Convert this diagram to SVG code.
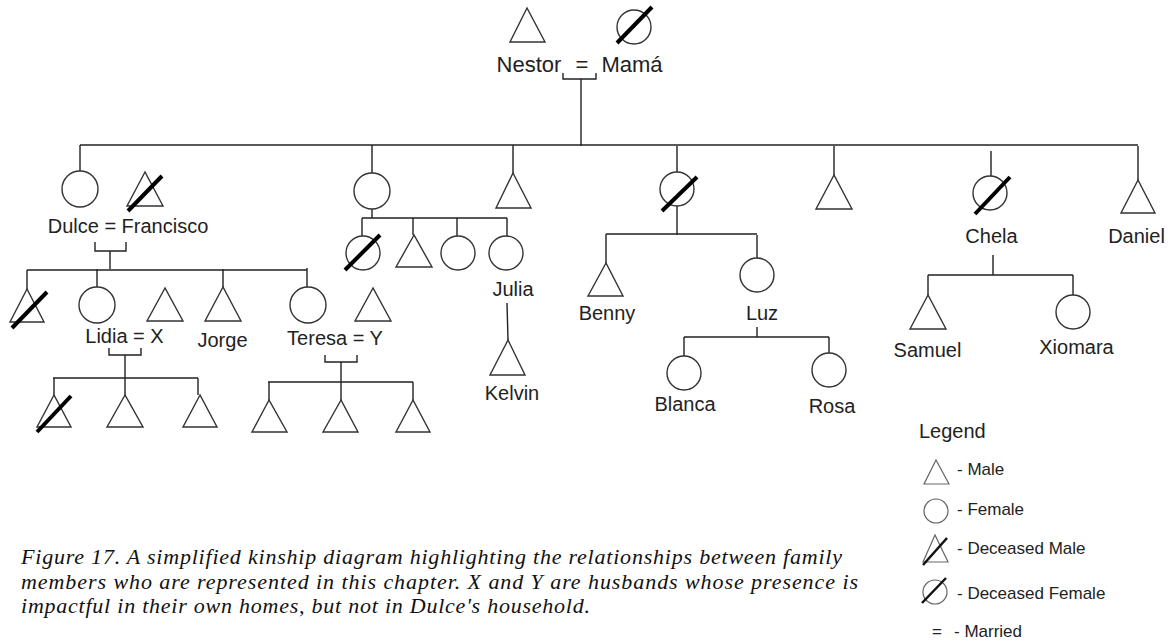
<svg xmlns="http://www.w3.org/2000/svg" width="1173" height="643" viewBox="0 0 1173 643">
<style>
.s{fill:none;stroke:#333;stroke-width:1.4}
.c{fill:none;stroke:#222;stroke-width:1.4}
.d{stroke:#000;stroke-width:4;stroke-linecap:butt}
.t{font-family:"Liberation Sans",Arial,sans-serif;font-size:20px;fill:#222;text-anchor:middle}
.tl{font-family:"Liberation Sans",Arial,sans-serif;font-size:17px;fill:#222}
.ls{fill:none;stroke:#666;stroke-width:1.2}
.ld{stroke:#111;stroke-width:2.5}
.cap{font-family:"Liberation Serif","Times New Roman",serif;font-style:italic;font-size:22px;fill:#111}
</style>
<rect width="1173" height="643" fill="#fff"/>
<g id="connectors" class="c">
<path d="M563,73V79H596V73M581,79V146"/>
<path d="M80,145H1138"/>
<path d="M80,145V171M372,145V173M513,145V173M677,146V172M834,146V175M991,151V176M1138,146V180"/>
<path d="M95,242V251H126V242M110,251V269M27,270H307M27,270V289M97,269V287M223,269V287M307,268V287"/>
<path d="M109,348V355H141V348M125,355V378M53,378H198M54,378V395M125,378V395M198,378V395"/>
<path d="M325,355V362H357V355M341,362V382M268,382H413M269,382V400M341,382V400M413,382V400"/>
<path d="M372,209V218M362,218H507M362,218V236M413,218V235M457,218V236M507,218V236"/>
<path d="M507,303L508,340"/>
<path d="M677,206V235M606,234H757M606,234V263M757,235V258"/>
<path d="M757,327V337M684,337H829M684,337V356M829,337V353"/>
<path d="M993,255V275M928,275H1073M928,275V295M1073,275V295"/>
</g>
<g id="nestor">
<polygon class="s" points="527,8 510,42 545,42"/>
<text class="t" x="529" y="72" style="font-size:22px">Nestor</text>
</g>
<g id="marriage-top"><text class="t" x="582" y="72" style="font-size:22px">=</text></g>
<g id="mama">
<circle class="s" cx="634" cy="27" r="17"/>
<line class="d" x1="617" y1="43" x2="652" y2="7"/>
<text class="t" x="632" y="72" style="font-size:22px">Mamá</text>
</g>
<g id="dulce"><circle class="s" cx="80" cy="189" r="18"/></g>
<g id="francisco">
<polygon class="s" points="145,172 127,206 163,206"/>
<line class="d" x1="128" y1="211" x2="162" y2="176"/>
</g>
<g id="label-dulce-francisco"><text class="t" x="128" y="233">Dulce = Francisco</text></g>
<g id="dulce-child1">
<polygon class="s" points="27,289 10,322 44,322"/>
<line class="d" x1="12" y1="328" x2="47" y2="292"/>
</g>
<g id="lidia"><circle class="s" cx="97" cy="305" r="18"/></g>
<g id="x"><polygon class="s" points="165,288 147,321 183,321"/></g>
<g id="label-lidia-x"><text class="t" x="124.5" y="343">Lidia = X</text></g>
<g id="jorge">
<polygon class="s" points="223,287 205,321 241,321"/>
<text class="t" x="222.5" y="347">Jorge</text>
</g>
<g id="teresa"><circle class="s" cx="308" cy="305" r="18"/></g>
<g id="y"><polygon class="s" points="373,288 355,321 391,321"/></g>
<g id="label-teresa-y"><text class="t" x="335" y="345">Teresa = Y</text></g>
<g id="lidia-child1">
<polygon class="s" points="54,395 37,427 71,427"/>
<line class="d" x1="37" y1="432" x2="71" y2="396"/>
</g>
<g id="lidia-child2"><polygon class="s" points="125,395 107,427 143,427"/></g>
<g id="lidia-child3"><polygon class="s" points="200,395 183,427 217,427"/></g>
<g id="teresa-child1"><polygon class="s" points="269,400 252,432 287,432"/></g>
<g id="teresa-child2"><polygon class="s" points="341,400 323,432 358,432"/></g>
<g id="teresa-child3"><polygon class="s" points="413,400 396,432 430,432"/></g>
<g id="sibling2"><circle class="s" cx="372" cy="191" r="18"/></g>
<g id="sibling2-child1">
<circle class="s" cx="363" cy="253" r="17"/>
<line class="d" x1="345" y1="270" x2="380" y2="235"/>
</g>
<g id="sibling2-child2"><polygon class="s" points="414,235 396,267 432,267"/></g>
<g id="sibling2-child3"><circle class="s" cx="458" cy="253" r="17"/></g>
<g id="julia">
<circle class="s" cx="506" cy="253" r="17"/>
<text class="t" x="513" y="296">Julia</text>
</g>
<g id="kelvin">
<polygon class="s" points="508,340 490,375 525,375"/>
<text class="t" x="512" y="400">Kelvin</text>
</g>
<g id="sibling3"><polygon class="s" points="513,173 496,208 531,208"/></g>
<g id="sibling4">
<circle class="s" cx="677" cy="189" r="17"/>
<line class="d" x1="662" y1="211" x2="697" y2="177"/>
</g>
<g id="benny">
<polygon class="s" points="606,263 588,296 623,296"/>
<text class="t" x="607" y="320">Benny</text>
</g>
<g id="luz">
<circle class="s" cx="757" cy="275" r="17"/>
<text class="t" x="762" y="320">Luz</text>
</g>
<g id="blanca">
<circle class="s" cx="684" cy="373" r="17"/>
<text class="t" x="685" y="411">Blanca</text>
</g>
<g id="rosa">
<circle class="s" cx="829" cy="370" r="17"/>
<text class="t" x="832" y="413">Rosa</text>
</g>
<g id="sibling5"><polygon class="s" points="834,175 816,209 852,209"/></g>
<g id="chela">
<circle class="s" cx="990" cy="193" r="17"/>
<line class="d" x1="975" y1="214" x2="1010" y2="177"/>
<text class="t" x="991.5" y="243">Chela</text>
</g>
<g id="samuel">
<polygon class="s" points="928,295 910,329 946,329"/>
<text class="t" x="927.5" y="357">Samuel</text>
</g>
<g id="xiomara">
<circle class="s" cx="1073" cy="312" r="17"/>
<text class="t" x="1076.5" y="354">Xiomara</text>
</g>
<g id="daniel">
<polygon class="s" points="1138,180 1121,213 1155,213"/>
<text class="t" x="1136.5" y="243">Daniel</text>
</g>
<g id="legend">
<text class="tl" x="919" y="438" style="font-size:20px">Legend</text>
<polygon class="ls" points="936,460 924,484 949,484"/>
<text class="tl" x="957" y="475">- Male</text>
<circle class="ls" cx="936" cy="511" r="12"/>
<text class="tl" x="957" y="515">- Female</text>
<polygon class="ls" points="935,535 923,562 948,562"/>
<line class="ld" x1="923" y1="565" x2="947" y2="538"/>
<text class="tl" x="957" y="554">- Deceased Male</text>
<circle class="ls" cx="935" cy="592" r="12"/>
<line class="ld" x1="922" y1="603" x2="946" y2="578"/>
<text class="tl" x="957" y="599">- Deceased Female</text>
<text class="tl" x="932" y="637">=</text>
<text class="tl" x="954" y="637">- Married</text>
</g>
<g id="caption">
<text class="cap" x="21" y="564" textLength="821" lengthAdjust="spacing">Figure 17. A simplified kinship diagram highlighting the relationships between family</text>
<text class="cap" x="21" y="589" textLength="837" lengthAdjust="spacing">members who are represented in this chapter. X and Y are husbands whose presence is</text>
<text class="cap" x="21" y="613" textLength="569" lengthAdjust="spacing">impactful in their own homes, but not in Dulce's household.</text>
</g>
</svg>
